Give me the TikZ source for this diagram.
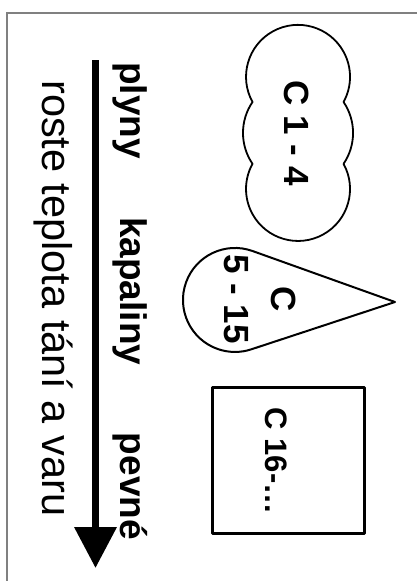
\documentclass[tikz,border=0pt]{standalone}
\usepackage{fontspec}
\setmainfont{Liberation Sans}
\usetikzlibrary{arrows.meta}

\begin{document}
\begin{tikzpicture}[x=1pt,y=-1pt,
  frame/.style={draw=black!50,line width=1.3pt},
  outline/.style={draw,line width=1.8pt,line join=round},
  state/.style={rotate=-90,inner sep=0pt,align=center,font=\fontsize{35}{47}\selectfont\bfseries},
  phase/.style={rotate=-90,inner sep=0pt,anchor=base west,font=\fontsize{37}{44}\selectfont\bfseries},
  axis/.style={line width=7pt,-{Triangle[length=41pt,width=41pt]}}]
  \useasboundingbox (0,0) rectangle (417,581);
  % slide border
  \draw[frame] (7,581) |- (417,13);

  % C 1 - 4
  \draw[outline] (252.5,102) arc[start angle=151.1,end angle=388.9,radius=52]
    arc[start angle=-34.2,end angle=34.2,radius=55]
    arc[start angle=-28.9,end angle=208.9,radius=52]
    arc[start angle=145.8,end angle=214.2,radius=55] -- cycle;
  \node[state] (c_gas) at (297,133) {C 1 - 4};

  % C 5 - 15
  \draw[outline,line width=2pt] (395,302) -- (252.5,251)
    arc[start angle=-70.3,end angle=-288.3,radius=52] -- cycle;
  \node[state] (c_liquid) at (260,299) {C\\5 - 15};

  % C 16-...
  \draw[outline,line width=3pt] (212,387) rectangle (364,533);
  \node[state,font=\fontsize{31}{40}\selectfont\bfseries] (c_solid) at (276,461) {C 16-\dots};

  % axis
  \coordinate (axis_top) at (95.5,60);
  \coordinate (axis_tip) at (95.5,568);
  \draw[axis] (axis_top) -- (axis_tip);
  \node[phase] (gas) at (120,62) {plyny};
  \node[phase] (liquid) at (120,217) {kapaliny};
  \node[phase,anchor=base east] (solid) at (120,540) {pevné};
  \node[phase,font=\fontsize{41.5}{50}\selectfont] (heat) at (42,80) {roste teplota tání a varu};
\end{tikzpicture}
\end{document}
